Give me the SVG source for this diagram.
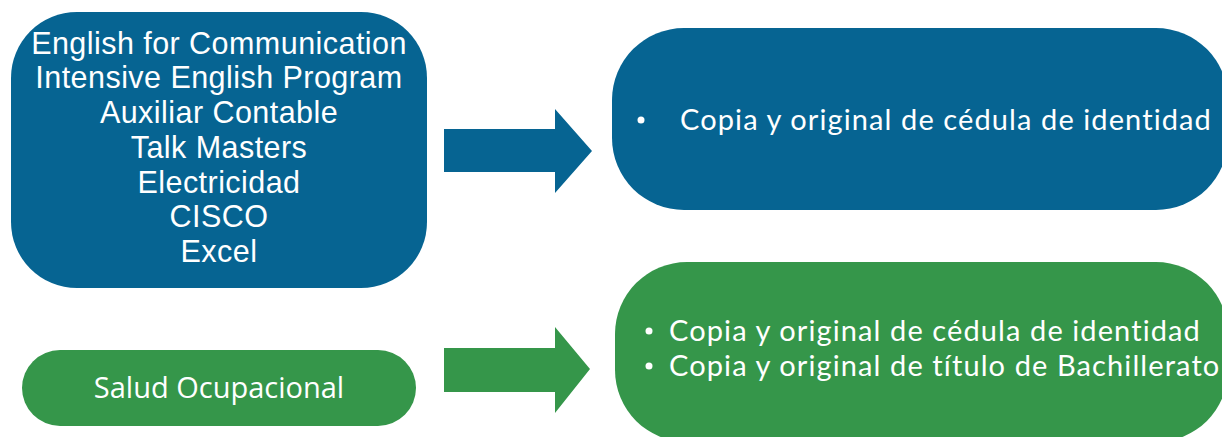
<svg xmlns="http://www.w3.org/2000/svg" width="1222" height="437" viewBox="0 0 1222 437">
<style>
.blue{fill:#066492}
.green{fill:#35964A}
.t1{font-family:"Liberation Sans",Arial,sans-serif;font-size:30.5px;letter-spacing:0.45px;fill:#fff;text-anchor:middle}
.t2{font-family:Lato,"Open Sans",sans-serif;font-size:29px;letter-spacing:1.1px;fill:#fff}
.t3{font-family:"Open Sans","Noto Sans",sans-serif;font-size:29px;fill:#fff;text-anchor:middle}
</style>
<rect width="1222" height="437" fill="#fff"/>
<g id="node-courses">
<rect class="blue" x="11" y="12" width="416" height="276" rx="66" ry="66"/>
<text class="t1" x="219" y="54">English for Communication</text>
<text class="t1" x="219" y="88">Intensive English Program</text>
<text class="t1" x="219" y="123">Auxiliar Contable</text>
<text class="t1" x="219" y="158">Talk Masters</text>
<text class="t1" x="219" y="193">Electricidad</text>
<text class="t1" x="219" y="227">CISCO</text>
<text class="t1" x="219" y="262">Excel</text>
</g>
<g id="node-req1">
<rect class="blue" x="612" y="28" width="616" height="182" rx="72" ry="72"/>
<circle cx="641" cy="120" r="3.5" fill="#fff"/>
<text class="t2" x="680" y="130">Copia y original de cédula de identidad</text>
</g>
<g id="node-salud">
<rect class="green" x="22" y="350" width="394" height="76" rx="38" ry="38"/>
<text class="t3" x="219" y="398">Salud Ocupacional</text>
</g>
<g id="node-req2">
<rect class="green" x="615" y="262" width="613" height="180" rx="72" ry="72"/>
<circle cx="649" cy="331" r="3.5" fill="#fff"/>
<text class="t2" x="669" y="341">Copia y original de cédula de identidad</text>
<circle cx="649" cy="366" r="3.5" fill="#fff"/>
<text class="t2" x="669" y="376">Copia y original de título de Bachillerato</text>
</g>
<g id="connectors">
<polygon class="blue" points="444,129 555,129 555,109 592,151 555,193 555,172 444,172"/>
<polygon class="green" points="444,348 555,348 555,327 590,369 555,413 555,392 444,392"/>
</g>
</svg>
